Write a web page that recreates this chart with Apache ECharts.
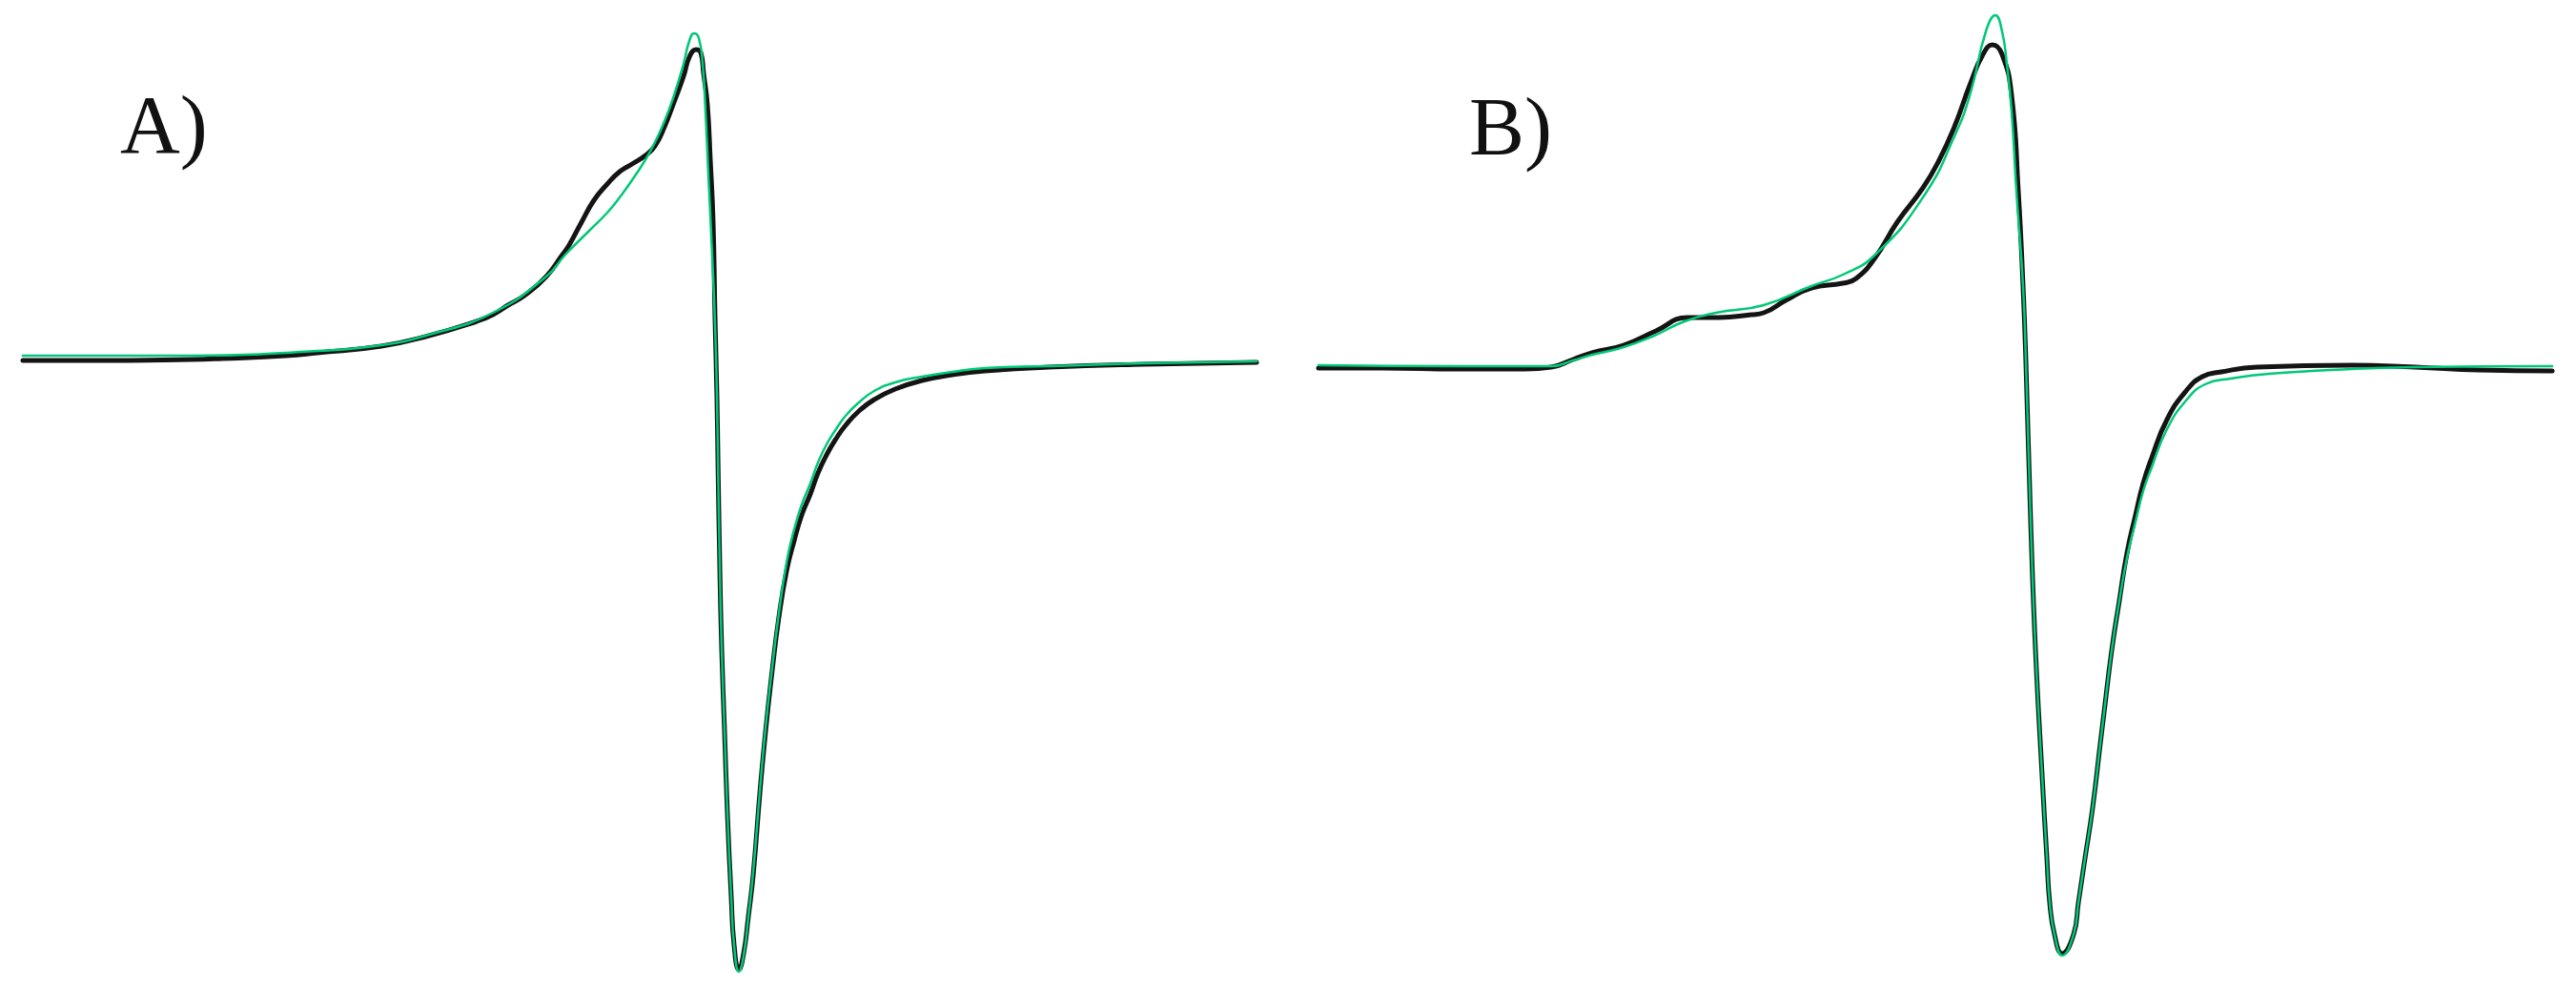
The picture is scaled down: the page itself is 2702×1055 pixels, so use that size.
<!DOCTYPE html>
<html>
<head>
<meta charset="utf-8">
<script src="https://cdn.jsdelivr.net/npm/echarts@6/dist/echarts.min.js"></script>
<style>
  html, body { margin: 0; padding: 0; background: #fff; }
  #chart { width: 2702px; height: 1055px; }
</style>
</head>
<body>
<div id="chart"></div>
<script>
// panel A - experimental (black) and simulated (green) spectra
// field in arbitrary units, intensity in arbitrary units (baseline = 0)
const fieldExpA = [0, 76, 176, 209, 276, 309, 376, 426, 476, 493, 509, 526, 549, 566, 573, 586, 599, 613, 626, 639, 653, 663, 673, 683, 693, 699, 706, 711, 714, 718, 721, 724, 726, 728, 729, 731, 733, 736, 739, 743, 746, 751, 756, 761, 766, 773, 779, 786, 793, 801, 809, 817, 826, 834, 843, 853, 863, 877, 893, 915, 943, 975, 1009, 1076, 1176, 1294];
const signalExpA = [-1, -1, 0, 1, 4, 7, 14, 25, 40, 47, 57, 67, 87, 110, 120, 144, 167, 184, 197, 205, 214, 224, 244, 270, 297, 317, 325, 322, 300, 267, 210, 144, 44, -40, -102, -218, -304, -390, -476, -563, -614, -640, -623, -584, -541, -455, -390, -326, -270, -222, -190, -163, -141, -119, -100, -83, -69, -54, -42, -31, -22, -16, -12, -8, -5, -3];

const fieldSimA = [0, 176, 309, 376, 426, 493, 549, 569, 593, 613, 626, 643, 659, 673, 683, 693, 699, 704, 709, 713, 716, 719, 723, 726, 728, 729, 731, 733, 736, 739, 743, 746, 751, 756, 761, 766, 773, 779, 786, 793, 801, 809, 817, 826, 834, 843, 853, 863, 877, 893, 915, 943, 975, 1009, 1076, 1176, 1294];
const signalSimA = [4, 4, 9, 15, 26, 49, 87, 110, 134, 154, 170, 194, 220, 250, 277, 310, 334, 342, 337, 310, 260, 194, 110, 37, -40, -102, -218, -304, -390, -476, -563, -614, -642, -625, -584, -538, -453, -386, -323, -266, -213, -178, -152, -130, -108, -89, -73, -59, -45, -33, -24, -18, -13, -9, -7, -4, -2];

// panel B
const fieldExpB = [0, 67, 147, 217, 244, 267, 287, 320, 354, 387, 420, 454, 467, 490, 517, 550, 564, 584, 607, 634, 650, 667, 684, 697, 707, 717, 727, 734, 739, 742, 747, 752, 759, 764, 767, 772, 780, 792, 797, 804, 812, 820, 824, 832, 840, 848, 857, 865, 874, 890, 910, 927, 947, 984, 1084, 1150, 1217, 1294];
const signalExpB = [-9, -9, -10, -10, -8, 0, 7, 15, 30, 44, 44, 47, 49, 62, 75, 80, 85, 107, 144, 180, 207, 244, 290, 320, 330, 320, 277, 177, 77, -3, -170, -303, -436, -523, -570, -603, -623, -603, -570, -523, -470, -403, -370, -305, -253, -203, -163, -130, -103, -63, -33, -18, -13, -8, -6, -8, -11, -12];

const fieldSimB = [0, 147, 244, 267, 287, 317, 350, 384, 417, 467, 517, 550, 584, 634, 667, 684, 700, 710, 717, 722, 727, 732, 739, 742, 747, 752, 759, 764, 767, 772, 780, 792, 797, 804, 812, 820, 824, 832, 840, 848, 857, 865, 874, 890, 910, 930, 957, 997, 1084, 1150, 1294];
const signalSimB = [-6, -7, -7, -1, 5, 12, 24, 40, 49, 57, 77, 89, 110, 170, 234, 280, 344, 361, 344, 310, 260, 177, 77, -3, -170, -303, -436, -523, -570, -603, -625, -603, -570, -523, -470, -403, -370, -305, -253, -208, -170, -138, -113, -73, -43, -26, -20, -15, -10, -8, -7];

const panelLabels = ["A)", "B)"];

function zip(xs, ys) {
  return xs.map((x, i) => [x, ys[i]]);
}

let chart = echarts.init(document.getElementById("chart"));

function axisX(idx) {
  return { type: "value", gridIndex: idx, min: 0, max: 1294, show: false };
}
function axisY(idx) {
  return { type: "value", gridIndex: idx, min: -678, max: 377, show: false };
}
function line(name, data, idx, color, width, z) {
  return {
    name: name,
    type: "line",
    xAxisIndex: idx,
    yAxisIndex: idx,
    data: data,
    showSymbol: false,
    smooth: 0.5,
    z: z,
    lineStyle: { color: color, width: width, join: "round", cap: "round" },
  };
}

chart.setOption({
  animation: false,
  backgroundColor: "#ffffff",
  grid: [
    { left: 24, top: 0, width: 1294, height: 1055 },
    { left: 1383, top: 0, width: 1294, height: 1055 },
  ],
  xAxis: [axisX(0), axisX(1)],
  yAxis: [axisY(0), axisY(1)],
  graphic: [
    {
      type: "text",
      left: 126,
      top: 94,
      style: {
        text: panelLabels[0],
        fontSize: 87,
        fontFamily: "Liberation Serif",
        fill: "#111",
      },
    },
    {
      type: "text",
      left: 1541,
      top: 96,
      style: {
        text: panelLabels[1],
        fontSize: 87,
        fontFamily: "Liberation Serif",
        fill: "#111",
      },
    },
  ],
  series: [
    line("A experimental", zip(fieldExpA, signalExpA), 0, "#141414", 5, 2),
    line("A simulated", zip(fieldSimA, signalSimA), 0, "#00c878", 2.5, 3),
    line("B experimental", zip(fieldExpB, signalExpB), 1, "#141414", 5, 2),
    line("B simulated", zip(fieldSimB, signalSimB), 1, "#00c878", 2.5, 3),
  ],
});
</script>
</body>
</html>
